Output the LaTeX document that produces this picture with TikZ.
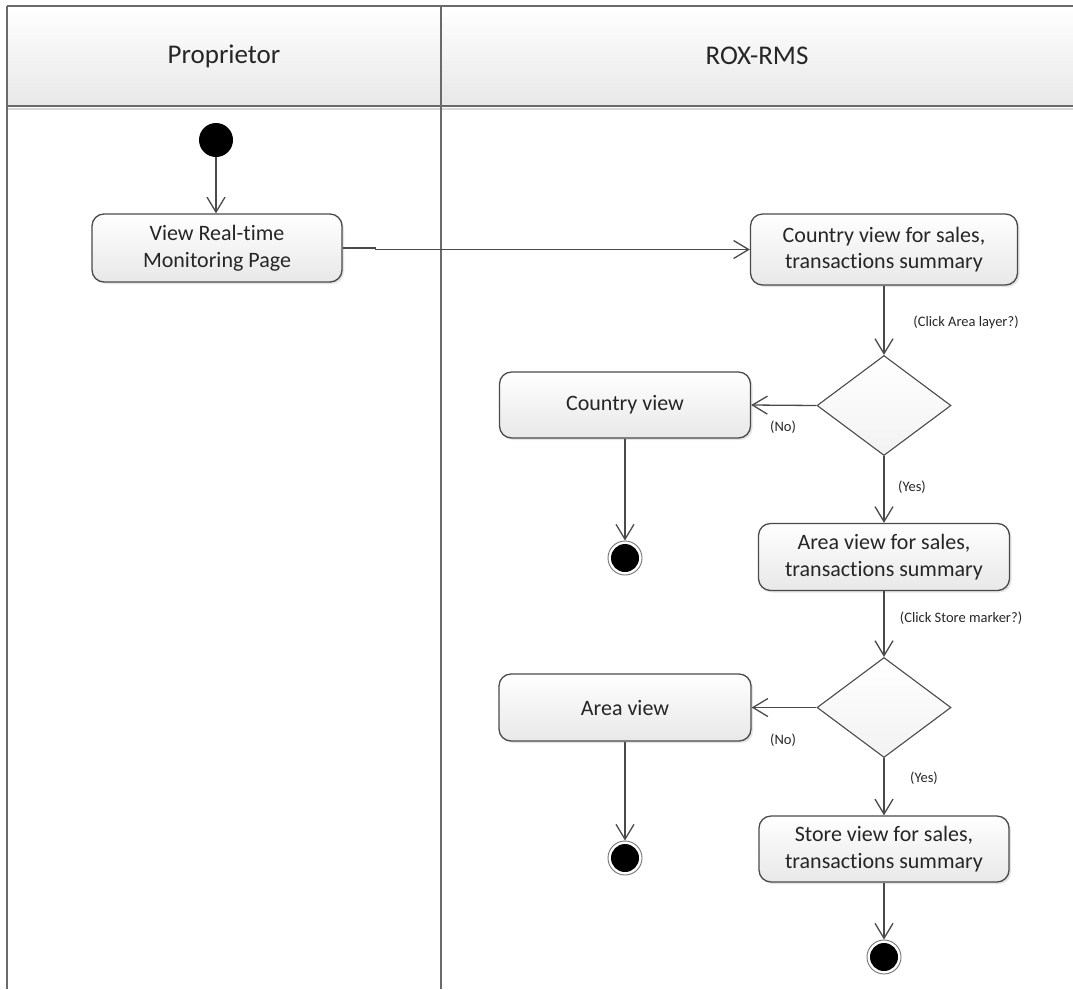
\documentclass[tikz,border=0pt]{standalone}
\usepackage{fontspec}
\setmainfont{Carlito}[Ligatures=NoCommon]
\usetikzlibrary{arrows.meta,shapes.geometric,shadows}
\definecolor{linegray}{HTML}{4A4A4A}
\definecolor{framegray}{HTML}{6A6A6A}
\definecolor{txt}{HTML}{262626}

\begin{document}
\begin{tikzpicture}[x=1pt,y=-1pt,
  flow/.style={draw=linegray, line width=1.3pt,
    -{Straight Barb[length=15pt,width=18pt,line width=1.3pt]}},
  action/.style={draw=linegray, line width=1.3pt, rounded corners=12pt,
    top color=white, bottom color=black!9, text=txt, align=center,
    inner sep=0pt, font=\fontsize{22}{26.5}\selectfont,
    drop shadow={shadow xshift=2pt, shadow yshift=-2pt, fill=black!35, opacity=0.3}},
  decision/.style={diamond, draw=linegray, line width=1.1pt,
    top color=white, bottom color=black!5, inner sep=0pt,
    minimum width=134pt, minimum height=100pt},
  guard/.style={text=txt, font=\fontsize{14.5}{16}\selectfont, inner sep=0pt},
  lanehead/.style={text=txt, font=\fontsize{27}{32}\selectfont},
  initial/.style={circle, fill=black, minimum size=34pt, inner sep=0pt},
  final/.style={circle, draw=black!55, line width=0.9pt, fill=white,
    minimum size=34pt, inner sep=0pt},
  laneline/.style={draw=framegray, line width=2pt}
]
\useasboundingbox (0,0) rectangle (1073,989);

% swimlane headers
\shade[top color=white, bottom color=black!9] (7,6) rectangle (1073,106);
\draw[laneline] (7,6) -- (1073,6);
\draw[black!15, line width=2pt] (7,109) -- (1073,109);
\draw[laneline, line width=2.4pt] (7,106) -- (1073,106);
\draw[laneline] (7,6) -- (7,989);
\draw[laneline] (441,6) -- (441,989);
\node[lanehead] (hp) at (224,56) {Proprietor};
\node[lanehead] (hr) at (757,56) {ROX-RMS};

% activity nodes
\node[initial] (s) at (216,140) {};
\node[action, minimum width=250pt, minimum height=68pt] (A1) at (217,248)
  {View Real-time\\Monitoring Page};
\node[action, minimum width=267pt, minimum height=71pt] (A2) at (884,249.5)
  {Country view for sales,\\transactions summary};
\node[decision] (D1) at (884,405.5) {};
\node[action, minimum width=251pt, minimum height=66pt] (CV) at (625,405)
  {Country view};
\node[final] (e1) at (625,558) {};
\node[action, minimum width=251pt, minimum height=67pt] (AVS) at (884,557)
  {Area view for sales,\\transactions summary};
\node[decision] (D2) at (884,707.5) {};
\node[action, minimum width=252pt, minimum height=67pt] (AV) at (625,707.5)
  {Area view};
\node[final] (e2) at (625,858) {};
\node[action, minimum width=250pt, minimum height=66pt] (SV) at (884,849)
  {Store view for sales,\\transactions summary};
\node[final] (e3) at (884,957) {};

% inner dots of the final nodes
\foreach \e in {e1,e2,e3} \fill (\e) circle (14pt);

% flows
\draw[flow] (s) -- (s |- A1.north);
\draw[flow] (A1.east) -- ++(33,0) |- (A2.west);
\draw[flow] (A2) -- (D1);
\draw[flow] (D1.west) -- (CV.east);
\draw[flow] (CV) -- (e1);
\draw[flow] (D1) -- (AVS);
\draw[flow] (AVS) -- (D2);
\draw[flow] (D2.west) -- (AV.east);
\draw[flow] (AV) -- (e2);
\draw[flow] (D2) -- (SV);
\draw[flow] (SV) -- (e3);

% guard labels
\node[guard] (g1) at (966,322) {(Click Area layer?)};
\node[guard] (g2) at (783,427) {(No)};
\node[guard] (g3) at (912,487) {(Yes)};
\node[guard] (g4) at (961,618) {(Click Store marker?)};
\node[guard] (g5) at (783,740) {(No)};
\node[guard] (g6) at (924,778) {(Yes)};
\end{tikzpicture}
\end{document}
